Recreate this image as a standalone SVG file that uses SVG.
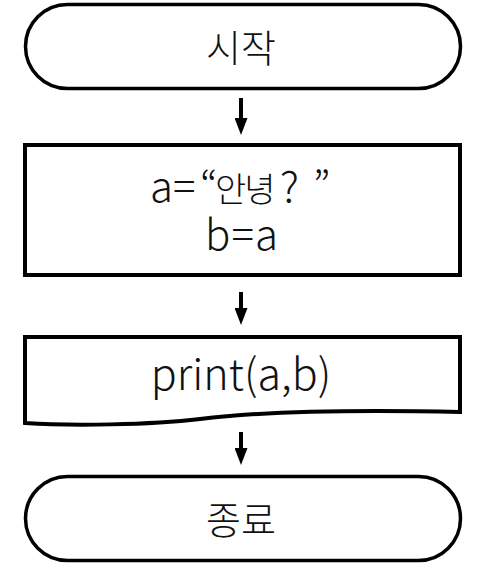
<svg xmlns="http://www.w3.org/2000/svg" width="482" height="577" viewBox="0 0 482 577">
<defs>
<style>
.shape{fill:#ffffff;stroke:#000000;stroke-width:4;stroke-linejoin:miter}
.term{fill:#ffffff;stroke:#000000;stroke-width:3.5}
.lbl{font-family:'Noto Sans CJK KR','Noto Sans',sans-serif;font-weight:300;fill:#111111}
.mid{text-anchor:middle}
.conn{stroke:#000000;stroke-width:4;fill:none}
</style>
<marker id="ah" markerUnits="userSpaceOnUse" viewBox="0 0 17 13" markerWidth="17" markerHeight="13" refX="2" refY="6.5" orient="auto">
<path d="M0,0 L17,6.5 L0,13 Z" fill="#000000"/>
</marker>
</defs>
<rect width="482" height="577" fill="#ffffff"/>
<g id="start">
<rect class="term" x="25.5" y="4.5" width="435" height="84" rx="42" ry="42"/>
<text class="lbl mid" x="241" y="62" font-size="38">시작</text>
</g>
<g id="assign">
<rect class="shape" x="25" y="145" width="435" height="130"/>
<text class="lbl" y="202" font-size="42"><tspan x="150">a=</tspan><tspan x="200">“</tspan><tspan x="215" font-size="34" letter-spacing="-2">안녕</tspan><tspan x="280">?</tspan><tspan x="313">”</tspan></text>
<text class="lbl mid" x="242" y="250" font-size="42" letter-spacing="1">b=a</text>
</g>
<g id="print">
<path class="shape" d="M25,337 L460,337 L460,412 C330,409 250,413 200,419 C150,425 70,426 25,423 Z"/>
<text class="lbl mid" x="241" y="390" font-size="43">print(a,b)</text>
</g>
<g id="end">
<rect class="term" x="25.5" y="476.5" width="435" height="84" rx="42" ry="42"/>
<text class="lbl mid" x="241" y="534" font-size="38">종료</text>
</g>
<g id="connectors">
<line class="conn" x1="241" y1="98" x2="241" y2="120" marker-end="url(#ah)"/>
<line class="conn" x1="241" y1="292" x2="241" y2="310" marker-end="url(#ah)"/>
<line class="conn" x1="241" y1="432" x2="241" y2="450" marker-end="url(#ah)"/>
</g>
</svg>
